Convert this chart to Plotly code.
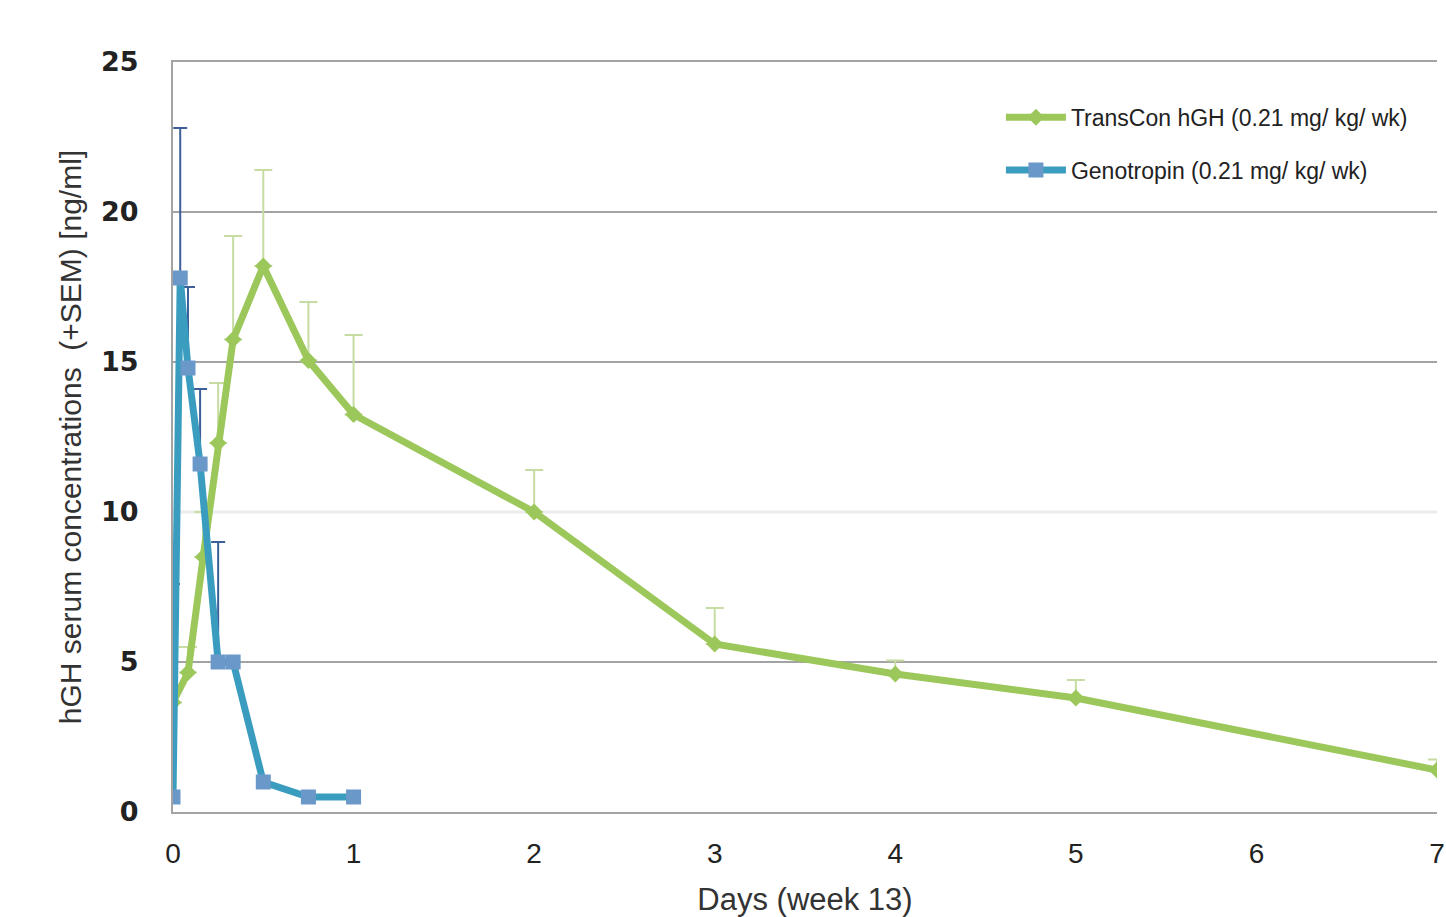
import plotly.graph_objects as go

# TransCon hGH data
tc_days = [0, 0.083, 0.167, 0.25, 0.333, 0.5, 0.75, 1, 2, 3, 4, 5, 7]
tc_conc = [3.65, 4.65, 8.5, 12.3, 15.75, 18.2, 15.05, 13.25, 10.0, 5.6, 4.6, 3.8, 1.4]
tc_sem = [0.0, 0.85, 1.5, 2.0, 3.45, 3.2, 1.95, 2.65, 1.4, 1.2, 0.45, 0.6, 0.35]

# Genotropin data
gt_days = [0, 0.04, 0.083, 0.15, 0.25, 0.333, 0.5, 0.75, 1]
gt_conc = [0.5, 17.8, 14.8, 11.6, 5.0, 5.0, 1.0, 0.5, 0.5]
gt_sem = [7.1, 5.0, 2.7, 2.5, 4.0, 0.0, 0.0, 0.0, 0.0]

x_ticks = [0, 1, 2, 3, 4, 5, 6, 7]
y_ticks = [0, 5, 10, 15, 20, 25]

fig = go.Figure()

fig.add_trace(go.Scatter(
    x=tc_days, y=tc_conc, mode="lines+markers",
    name="TransCon hGH (0.21 mg/ kg/ wk)",
    legendgroup="a",
    line=dict(color="#9cc75b", width=7),
    marker=dict(symbol="diamond", size=13, color="#9cc75b"),
    error_y=dict(type="data", symmetric=False, array=tc_sem,
                 arrayminus=[0]*len(tc_sem), color="#c6dca2",
                 thickness=2, width=9),
))

fig.add_trace(go.Scatter(
    x=gt_days, y=gt_conc, mode="lines+markers",
    name="Genotropin (0.21 mg/ kg/ wk)",
    legendgroup="b",
    line=dict(color="#3a9dbf", width=7),
    marker=dict(symbol="square", size=15, color="#6a98c9"),
    error_y=dict(type="data", symmetric=False, array=gt_sem,
                 arrayminus=[0]*len(gt_sem), color="#3d5f98",
                 thickness=2, width=7),
))

# lighter gridline at 10, as in the original
fig.add_shape(type="line", xref="x", x0=0, x1=7, yref="y", y0=10, y1=10,
              line=dict(color="#ececec", width=3), layer="between")

fig.update_layout(
    width=1446, height=917,
    margin=dict(l=173, r=9, t=62, b=105),
    paper_bgcolor="white", plot_bgcolor="white",
    font=dict(family="Liberation Sans, Arial, sans-serif", color="#222222"),
    showlegend=True,
    legend=dict(
        x=0.655, y=0.955, xanchor="left", yanchor="top",
        font=dict(size=23, color="#222222"),
        bgcolor="rgba(0,0,0,0)", tracegroupgap=20,
        itemwidth=60,
    ),
    xaxis=dict(
        range=[0, 7], tickvals=x_ticks, ticktext=[str(v) for v in x_ticks],
        showgrid=False, zeroline=False, automargin=False,
        showline=True, mirror=True, linecolor="#a3a3a3", linewidth=2,
        tickfont=dict(size=28, color="#222222"),
        ticklabelstandoff=15,
        title=dict(text="Days (week 13)", font=dict(size=31, color="#333333"), standoff=23),
    ),
    yaxis=dict(
        range=[0, 25], tickvals=y_ticks, ticktext=[str(v) for v in y_ticks],
        showgrid=True, gridcolor="#a3a3a3", gridwidth=2,
        zeroline=False, showline=True, linecolor="#a3a3a3", linewidth=2,
        tickfont=dict(family="DejaVu Sans, sans-serif", size=27, color="#222222", weight="bold"),
        ticklabelstandoff=27, automargin=False,
        title=dict(text="hGH serum concentrations  (+SEM) [ng/ml]",
                   font=dict(size=30, color="#333333"), standoff=11),
    ),
)

fig.write_html("out.html")
